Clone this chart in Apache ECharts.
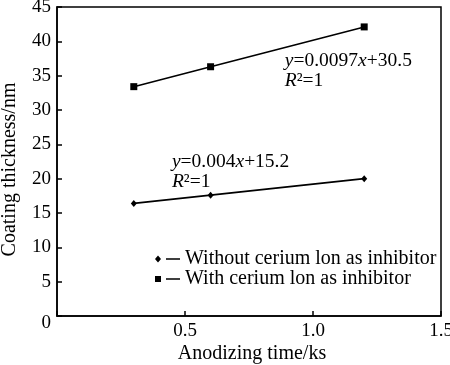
<!DOCTYPE html>
<html>
<head>
<meta charset="utf-8">
<script src="https://cdn.jsdelivr.net/npm/echarts@6/dist/echarts.min.js"></script>
<style>html,body{margin:0;padding:0;background:#fff}#c{width:450px;height:365px}</style>
</head>
<body>
<div id="c"></div>
<script>
const timeKs = [0.3, 0.6, 1.2];
const withoutCe = [16.4, 17.6, 20.0];
const withCe = [33.4, 36.3, 42.1];
const seriesNames = ['Without cerium lon as inhibitor', 'With cerium lon as inhibitor'];
const xTickLabels = {0: '', 0.5: '0.5', 1: '1.0', 1.5: '1.5'};
const eqWith = '{i|y}{n|=0.0097}{i|x}{n|+30.5}\n{i|R}{n|²=1}';
const eqWithout = '{i|y}{n|=0.004}{i|x}{n|+15.2}\n{i|R}{n|²=1}';
const eqWithPos = [0.89, 38.6];
const eqWithoutPos = [0.449, 23.9];

const FONT = "'Times New Roman', 'Liberation Serif', serif";
const rich = {
  n: {fontFamily: FONT, fontSize: 19.5, color: '#000', lineHeight: 20},
  i: {fontFamily: FONT, fontSize: 19.5, fontStyle: 'italic', color: '#000', lineHeight: 20}
};
function eqPoint(pos, text) {
  return {
    symbolSize: 0,
    silent: true,
    label: {show: true, position: [0, 0], align: 'left', verticalAlign: 'top', formatter: text, rich: rich},
    data: [{coord: pos}]
  };
}
const chart = echarts.init(document.getElementById('c'));
chart.setOption({
  animation: false,
  backgroundColor: '#fff',
  grid: {left: 57, right: 9, top: 7, bottom: 49, outerBoundsMode: 'none', containLabel: false,
    show: true, borderColor: '#000', borderWidth: 1.5},
  legend: {
    orient: 'vertical', left: 150, top: 244, itemGap: 0,
    itemWidth: 25, itemHeight: 7,
    textStyle: {fontFamily: FONT, fontSize: 20, color: '#000'},
    data: [
      {name: seriesNames[0], icon: 'path://M3,0 L6,3.5 L3,7 L0,3.5 Z M11,2.8 L25,2.8 L25,4.2 L11,4.2 Z'},
      {name: seriesNames[1], icon: 'path://M0,0.5 L6,0.5 L6,6.5 L0,6.5 Z M11,2.8 L25,2.8 L25,4.2 L11,4.2 Z M0,0 L0.01,0 M0,7 L0.01,7'}
    ]
  },
  xAxis: {
    type: 'value', min: 0, max: 1.5, interval: 0.5,
    name: 'Anodizing time/ks', nameLocation: 'middle', nameGap: 28, nameMoveOverlap: false,
    nameTextStyle: {fontFamily: FONT, fontSize: 20, color: '#000', padding: [0, 0, 0, 6]},
    axisLine: {lineStyle: {color: '#000', width: 1.5}},
    axisTick: {inside: true, length: 5, lineStyle: {color: '#000', width: 1.5}},
    axisLabel: {fontFamily: FONT, fontSize: 19, color: '#000', margin: 6,
      formatter: v => xTickLabels[v] !== undefined ? xTickLabels[v] : String(v)},
    splitLine: {show: false}
  },
  yAxis: {
    type: 'value', min: 0, max: 45, interval: 5,
    name: 'Coating thickness/nm', nameLocation: 'middle', nameGap: 37, nameMoveOverlap: false,
    nameTextStyle: {fontFamily: FONT, fontSize: 20, color: '#000', padding: [0, 16, 0, 0]},
    axisLine: {lineStyle: {color: '#000', width: 1.5}},
    axisTick: {inside: true, length: 5, lineStyle: {color: '#000', width: 1.5}},
    axisLabel: {fontFamily: FONT, fontSize: 19, color: '#000', margin: 6,
      formatter: v => v === 0 ? '{z|0}' : String(v),
      rich: {z: {fontFamily: FONT, fontSize: 19, color: '#000', padding: [14, 0, 0, 0]}}},
    splitLine: {show: false}
  },
  series: [
    {
      name: seriesNames[0], type: 'line', data: timeKs.map((x, k) => [x, withoutCe[k]]),
      color: '#000', symbol: 'diamond', symbolSize: [6, 7],
      lineStyle: {color: '#000', width: 1.6}, itemStyle: {color: '#000'},
      markPoint: eqPoint(eqWithoutPos, eqWithout)
    },
    {
      name: seriesNames[1], type: 'line', data: timeKs.map((x, k) => [x, withCe[k]]),
      color: '#000', symbol: 'rect', symbolSize: 7,
      lineStyle: {color: '#000', width: 1.6}, itemStyle: {color: '#000'},
      markPoint: eqPoint(eqWithPos, eqWith)
    }
  ]
});
</script>
</body>
</html>
